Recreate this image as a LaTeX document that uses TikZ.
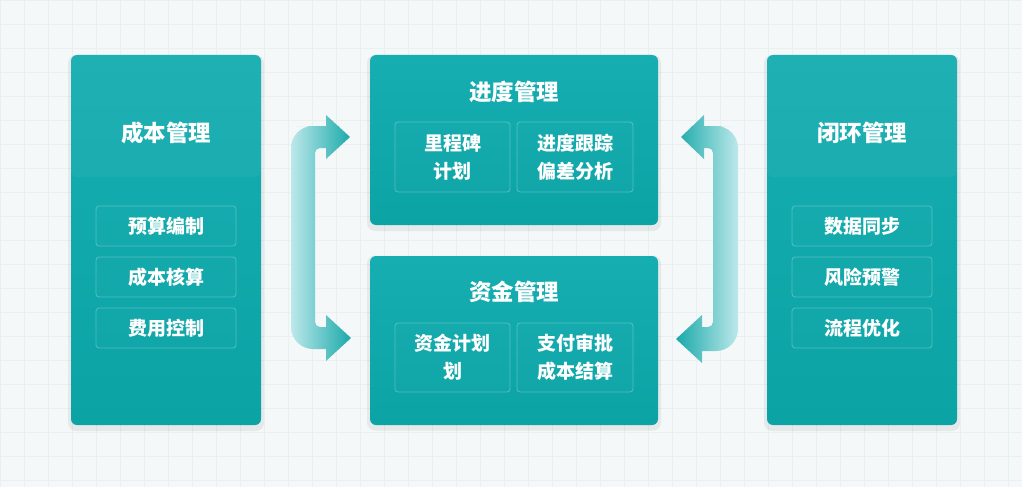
\documentclass[tikz,border=0pt]{standalone}
\usepackage{fontspec}
\newfontfamily\cjk{Noto Sans CJK SC}
\usetikzlibrary{calc}
\definecolor{bg}{HTML}{F5F8F9}
\definecolor{gridc}{HTML}{EAEFF0}
\definecolor{tealtop}{HTML}{16AEB1}
\definecolor{tealbot}{HTML}{0CA3A5}
\definecolor{arrlight}{HTML}{BDE8EA}
\definecolor{arrdark}{HTML}{1AA9AA}
\tikzset{
  panel/.style={shade, top color=tealtop, bottom color=tealbot, rounded corners=6pt, inner sep=0pt},
  subbox/.style={draw=white, draw opacity=0.28, line width=0.8pt, fill=white, fill opacity=0.015, text opacity=1, rounded corners=3pt, inner sep=0pt, text=white, font=\cjk\bfseries\fontsize{19}{28}\selectfont, align=center},
  title/.style={text=white, font=\cjk\bfseries\fontsize{22.5}{27}\selectfont, inner sep=0pt},
  shadowbox/.style={fill=black, opacity=0.06, rounded corners=8pt, inner sep=0pt}
}
\begin{document}
\begin{tikzpicture}[x=1pt,y=-1pt]
\useasboundingbox (0,0) rectangle (1022,487);
\fill[bg] (0,0) rectangle (1022,487);
\foreach \i in {0,24,...,1022} \draw[gridc, line width=0.6pt] (\i,0) -- (\i,487);
\foreach \j in {0,24,...,487} \draw[gridc, line width=0.6pt] (0,\j) -- (1022,\j);

% shadows
\node[shadowbox, minimum width=196pt, minimum height=376pt] at (166,243) {};
\node[shadowbox, minimum width=294pt, minimum height=176pt] at (514,143) {};
\node[shadowbox, minimum width=294pt, minimum height=175pt] at (514,343) {};
\node[shadowbox, minimum width=196pt, minimum height=376pt] at (862,243) {};

% panels
\node[panel, minimum width=190pt, minimum height=370pt] (cost) at (166,240) {};
\node[panel, minimum width=288pt, minimum height=170pt] (prog) at (514,140) {};
\node[panel, minimum width=288pt, minimum height=169pt] (fund) at (514,340.5) {};
\node[panel, minimum width=190pt, minimum height=370pt] (loop) at (862,240) {};

% header bands
\fill[white, opacity=0.035, rounded corners=6pt] (71,55) -- (71,177) -- (261,177) -- (261,55) -- cycle;
\fill[white, opacity=0.035, rounded corners=6pt] (767,55) -- (767,177) -- (957,177) -- (957,55) -- cycle;

% titles
\node[title] (costT) at (166,133) {成本管理};
\node[title] (progT) at (514,92) {进度管理};
\node[title] (fundT) at (514,292) {资金管理};
\node[title] (loopT) at (862,133) {闭环管理};

% side sub boxes
\node[subbox, minimum width=140pt, minimum height=40pt] (c1) at (166,226) {预算编制};
\node[subbox, minimum width=140pt, minimum height=40pt] (c2) at (166,277) {成本核算};
\node[subbox, minimum width=140pt, minimum height=40pt] (c3) at (166,328) {费用控制};
\node[subbox, minimum width=140pt, minimum height=40pt] (l1) at (862,226) {数据同步};
\node[subbox, minimum width=140pt, minimum height=40pt] (l2) at (862,277) {风险预警};
\node[subbox, minimum width=140pt, minimum height=40pt] (l3) at (862,328) {流程优化};

% middle sub boxes
\node[subbox, minimum width=115pt, minimum height=70pt] (p1) at (452.5,157) {里程碑\\计划};
\node[subbox, minimum width=116pt, minimum height=70pt] (p2) at (575,157) {进度跟踪\\偏差分析};
\node[subbox, minimum width=115pt, minimum height=69pt] (f1) at (452.5,357.5) {资金计划\\划};
\node[subbox, minimum width=116pt, minimum height=69pt] (f2) at (575,357.5) {支付审批\\成本结算};

% left bracket arrow
\shade[left color=arrlight, right color=arrdark]
  (291,240) [rounded corners=22pt] -- (291,126) -- (318,126) [sharp corners]
  -- (326,126) -- (326,115) -- (350,137) -- (326,159) -- (326,148) -- (321,148)
  [rounded corners=5pt] -- (315,148) -- (315,327) -- (321,327) [sharp corners]
  -- (326,327) -- (326,315) -- (351,338) -- (326,361) -- (326,349) -- (318,349)
  [rounded corners=22pt] -- (291,349) -- cycle;

% right bracket arrow
\shade[left color=arrdark, right color=arrlight]
  (738,240) [rounded corners=22pt] -- (738,126) -- (712,126) [sharp corners]
  -- (704,126) -- (704,115) -- (681,137) -- (704,159) -- (704,148) -- (708,148)
  [rounded corners=5pt] -- (713,148) -- (713,327) -- (707,327) [sharp corners]
  -- (702,327) -- (702,315) -- (676,339) -- (702,363) -- (702,351) -- (712,351)
  [rounded corners=22pt] -- (738,351) -- cycle;
\end{tikzpicture}
\end{document}
